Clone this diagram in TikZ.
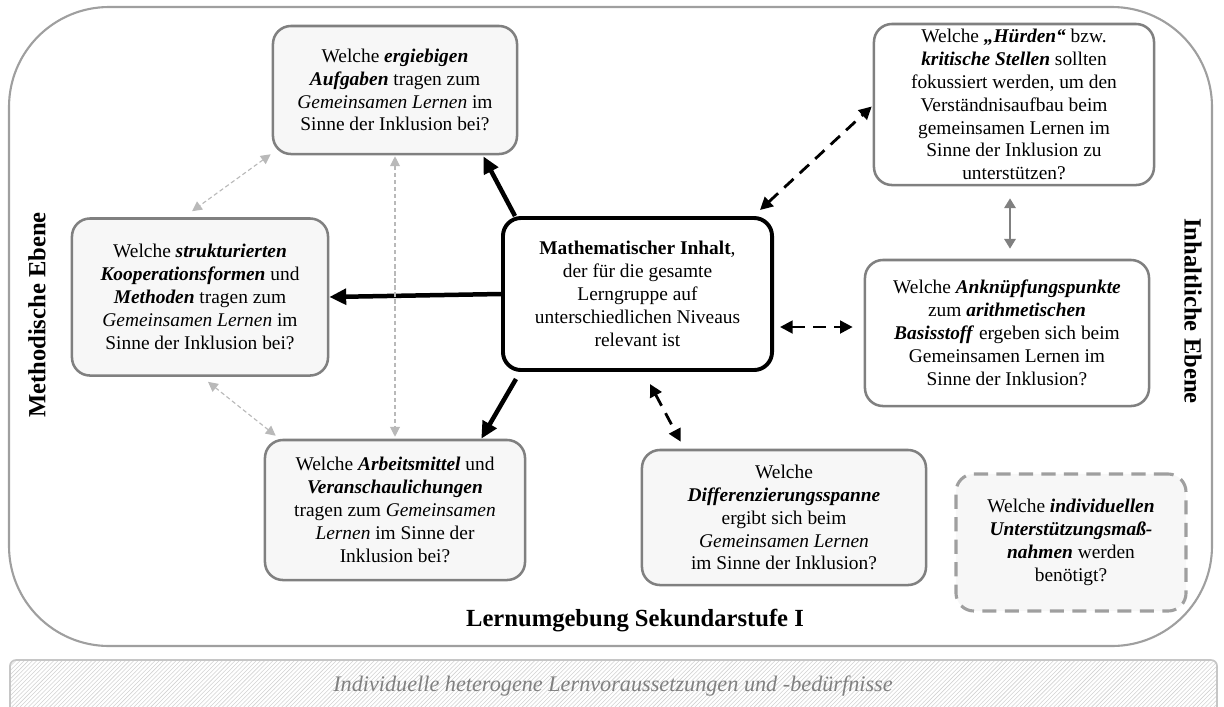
\documentclass[tikz,border=0pt]{standalone}
\usepackage{fontspec}
\setmainfont{Liberation Serif}
\usepackage{tikz}
\usetikzlibrary{arrows.meta,patterns,calc}
\newcommand{\bfit}[1]{\textbf{\textit{#1}}}
\definecolor{boxfill}{HTML}{F7F7F7}
\definecolor{boxline}{HTML}{808080}

\begin{document}
\begin{tikzpicture}[x=0.025cm,y=-0.025cm,
    box/.style={draw=boxline, line width=1.8pt, rounded corners=0.45cm, fill=boxfill,
        align=center, inner sep=0pt, font=\fontsize{13.8}{16.3}\selectfont},
    mainbox/.style={box, draw=black, line width=2.8pt, fill=white},
    dashbox/.style={box, draw=gray!75, line width=2.2pt, dash pattern=on 10pt off 6pt},
    mainarrow/.style={line width=3.2pt, -{Triangle[length=12pt,width=11pt]}},
    dasharrow/.style={line width=2pt, dash pattern=on 9pt off 6pt,
        {Triangle[length=9pt,width=9pt]}-{Triangle[length=9pt,width=9pt]}},
    greyarrow/.style={draw=boxline, line width=2pt,
        {Triangle[length=7pt,width=8pt]}-{Triangle[length=7pt,width=8pt]}},
    thinarrow/.style={draw=gray!55, line width=0.8pt, dash pattern=on 3pt off 2pt,
        {Triangle[length=7pt,width=7pt]}-{Triangle[length=7pt,width=7pt]}},
    ebene/.style={font=\fontsize{17.5}{20}\selectfont\bfseries}]
    \useasboundingbox (0,0) rectangle (1224,706);
    \draw[draw=gray!75, line width=1.5pt, rounded corners=2.5cm] (9,7) rectangle (1212,646);
    \draw[draw=gray!45, line width=1.2pt, rounded corners=0.15cm,
        pattern=north east lines, pattern color=gray!35] (10,660) rectangle (1217,716);
    \node[font=\fontsize{15.8}{18}\selectfont\itshape, text=gray] (S) at (613,686)
        {Individuelle heterogene Lernvoraussetzungen und -bedürfnisse};
    \node[ebene] (T) at (635,621) {Lernumgebung Sekundarstufe I};
    \node[ebene, rotate=90] (L) at (37,315) {Methodische Ebene};
    \node[ebene, rotate=-90] (R) at (1193,311) {Inhaltliche Ebene};

    \node[mainbox, minimum width=6.725cm, minimum height=3.8cm] (M) at (637.5,294)
        {\textbf{Mathematischer Inhalt}, \\ der für die gesamte \\ Lerngruppe auf \\
         unterschiedlichen Niveaus \\ relevant ist};
    \node[box, minimum width=6.1cm, minimum height=3.2cm] (A) at (395,90)
        {Welche \bfit{ergiebigen} \\ \bfit{Aufgaben} tragen zum \\
         \textit{Gemeinsamen Lernen} im \\ Sinne der Inklusion bei?};
    \node[box, minimum width=6.4cm, minimum height=3.925cm] (B) at (200,297)
        {Welche \bfit{strukturierten} \\ \bfit{Kooperationsformen} und \\
         \bfit{Methoden} tragen zum \\ \textit{Gemeinsamen Lernen} im \\
         Sinne der Inklusion bei?};
    \node[box, fill=white, minimum width=7cm, minimum height=4.025cm] (C) at (1014,104.5)
        {Welche \bfit{„Hürden“} bzw. \\ \bfit{kritische Stellen} sollten \\
         fokussiert werden, um den \\ Verständnisaufbau beim \\
         gemeinsamen Lernen im \\ Sinne der Inklusion zu \\ unterstützen?};
    \node[box, fill=white, minimum width=7.1cm, minimum height=3.65cm] (D) at (1007,333)
        {Welche \bfit{Anknüpfungspunkte} \\ zum \bfit{arithmetischen} \\
         \bfit{Basisstoff} ergeben sich beim \\ Gemeinsamen Lernen im \\
         Sinne der Inklusion?};
    \node[box, minimum width=6.5cm, minimum height=3.5cm] (E) at (395,510)
        {Welche \bfit{Arbeitsmittel} und \\ \bfit{Veranschaulichungen} \\
         tragen zum \textit{Gemeinsamen} \\ \textit{Lernen} im Sinne der \\
         Inklusion bei?};
    \node[box, minimum width=7.1cm, minimum height=3.375cm] (F) at (784,517.5)
        {Welche \\ \bfit{Differenzierungsspanne} \\ ergibt sich beim \\
         \textit{Gemeinsamen Lernen} \\ im Sinne der Inklusion?};
    \node[dashbox, minimum width=5.75cm, minimum height=3.425cm] (G) at (1071,542.5)
        {Welche \bfit{individuellen} \\ \bfit{Unterstützungsmaß-} \\
         \bfit{nahmen} werden \\ benötigt?};

    \draw[mainarrow] ($(M.north west)+(14,0)$) -- ($(A.south east)+(-35,1)$);
    \draw[mainarrow] (M.west) -- (B.east);
    \draw[mainarrow] ($(M.south west)+(15,7)$) -- ($(E.north east)+(-45,0)$);
    \draw[dasharrow] ($(M.north east)+(-14,-6)$) -- ($(C.west)+(-1,2)$);
    \draw[dasharrow] ($(M.east)+(6,33)$) -- ($(D.west)+(-11,-6)$);
    \draw[dasharrow] ($(M.south)+(12.5,12)$) -- ($(F.north west)+(40,-7)$);
    \draw[greyarrow] ($(C.south)+(-4,12)$) -- ($(D.north)+(3,-10)$);
    \draw[thinarrow] ($(A.south west)+(-1,-1)$) -- ($(B.north)+(-8,-6)$);
    \draw[thinarrow] ($(A.south)+(0,1)$) -- ($(E.north)+(0,-2)$);
    \draw[thinarrow] ($(B.south)+(8,5)$) -- ($(E.north west)+(12,-3)$);
\end{tikzpicture}
\end{document}
